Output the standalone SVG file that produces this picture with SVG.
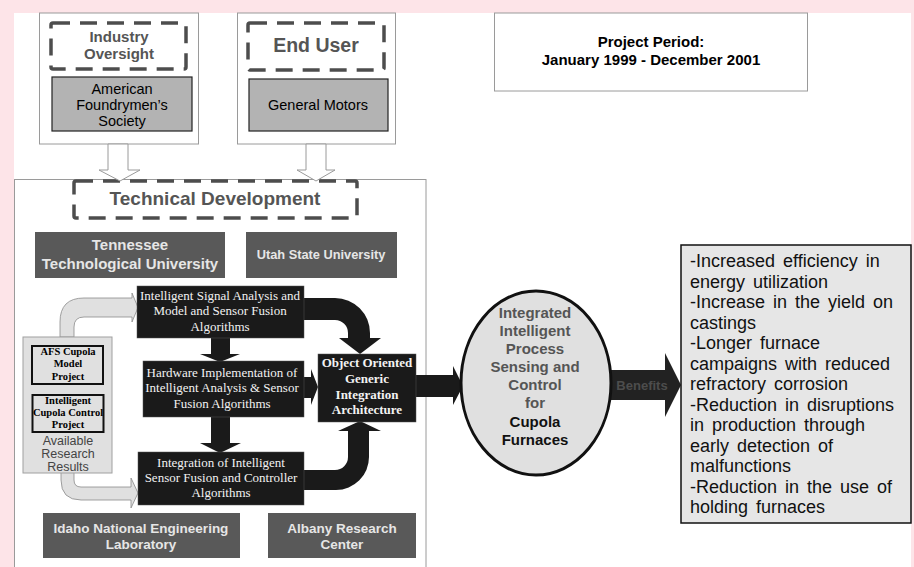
<svg xmlns="http://www.w3.org/2000/svg" width="914" height="567" viewBox="0 0 914 567">
<style>
.sans{font-family:"Liberation Sans",Arial,sans-serif}
.serif{font-family:"Liberation Serif","Times New Roman",serif}
.frame{fill:#fff;stroke:#9a9a9a;stroke-width:1}
.dash{fill:none;stroke:#4d4d4d;stroke-width:3.5;stroke-dasharray:17 10}
.dlabel{font-family:"Liberation Sans",Arial,sans-serif;font-weight:bold;fill:#555;text-anchor:middle}
.org{fill:#b3b3b3;stroke:#222;stroke-width:1.2}
.inst{fill:#595959}
.instt{font-family:"Liberation Sans",Arial,sans-serif;font-weight:bold;fill:#e6e6e6;text-anchor:middle}
.blk{fill:#1a1a1a;stroke:#555;stroke-width:0.5}
.blkt{font-family:"Liberation Serif","Times New Roman",serif;fill:#f2f2f2;text-anchor:middle;font-size:13px}
.bigarrow{fill:#1a1a1a}
.lightarrow{fill:#e0e0e0;stroke:#8a8a8a;stroke-width:0.8}
.hollow{fill:#fff;stroke:#9a9a9a;stroke-width:1}
</style>
<rect width="914" height="567" fill="#fde4e8"/>
<rect x="14" y="13" width="897" height="560" fill="#fff"/>

<g id="industry-oversight">
<rect class="frame" x="39.5" y="13" width="159" height="131"/>
<rect class="dash" x="51" y="23" width="135" height="46" rx="2"/>
<text class="dlabel" x="119" y="42" font-size="15">Industry</text>
<text class="dlabel" x="119" y="59" font-size="15">Oversight</text>
<rect class="org" x="52" y="77" width="140" height="54"/>
<text class="sans" x="122" y="94" font-size="14.5" text-anchor="middle">American</text>
<text class="sans" x="122" y="110" font-size="14.5" text-anchor="middle">Foundrymen’s</text>
<text class="sans" x="122" y="126" font-size="14.5" text-anchor="middle">Society</text>
</g>

<g id="end-user">
<rect class="frame" x="237.5" y="13" width="158" height="131"/>
<rect class="dash" x="248" y="23" width="136" height="47" rx="2"/>
<text class="dlabel" x="316" y="52" font-size="19.5">End User</text>
<rect class="org" x="249" y="79" width="139" height="52"/>
<text class="sans" x="318" y="110" font-size="14.5" text-anchor="middle">General Motors</text>
</g>

<g id="project-period">
<rect class="frame" x="494.5" y="13" width="313" height="78"/>
<text class="sans" x="651" y="47" font-size="15" font-weight="bold" text-anchor="middle">Project Period:</text>
<text class="sans" x="651" y="65" font-size="15" font-weight="bold" text-anchor="middle">January 1999 - December 2001</text>
</g>

<g id="technical-development">
<rect class="frame" x="14.5" y="179.5" width="411.5" height="400"/>
<rect class="dash" x="74" y="181" width="283" height="37" rx="2"/>
<text class="dlabel" x="215" y="205" font-size="19">Technical Development</text>
</g>

<g id="connectors">
<polygon class="hollow" points="108,144 128,144 128,170 140,170 120,181 99,170 108,170"/>
<polygon class="hollow" points="306,144 326,144 326,170 335,170 316,181 297,170 306,170"/>
<path class="lightarrow" d="M60,337 L60,322 Q60,298 84,298 L132,298 L132,293 L138,307.5 L132,322 L132,317 L84,317 Q74,317 74,327 L74,337 Z"/>
<path class="lightarrow" d="M61,472 L61,480 Q61,500 81,500 L131,500 L131,508 L138,493 L131,478 L131,487 L81,487 Q74,487 74,480 L74,472 Z"/>
<polygon class="bigarrow" points="211,337 230,337 230,354 240,354 220,362 200,354 211,354"/>
<polygon class="bigarrow" points="211,416 230,416 230,443 241,443 220,453 200,443 211,443"/>
<path class="bigarrow" d="M303,298 L335,298 A35,35 0 0 1 370,333 L370,338 L381,338 L360,354 L339,338 L348,338 L348,333 A13,13 0 0 0 335,320 L303,320 Z"/>
<path class="bigarrow" d="M303,470 L335,470 A13,13 0 0 0 348,457 L348,431 L338,431 L360,421 L381,431 L369,431 L369,457 A33,33 0 0 1 336,490 L303,490 Z"/>
<polygon class="bigarrow" points="303,377 311,377 311,369 318,387 311,405 311,398 303,398"/>
<polygon class="bigarrow" points="415,375 453,375 453,366 463,386 453,405 453,397 415,397"/>
<polygon fill="#222" points="608,370 665,370 665,353 681,385 665,417 665,400 608,400"/>
<text class="sans" x="642" y="390" font-size="13" font-weight="bold" fill="#4d4d4d" text-anchor="middle">Benefits</text>
</g>

<g id="tennessee-tech">
<rect class="inst" x="35" y="232" width="190" height="46"/>
<text class="instt" x="130" y="250" font-size="15">Tennessee</text>
<text class="instt" x="130" y="269" font-size="15">Technological University</text>
</g>

<g id="utah-state">
<rect class="inst" x="246" y="232" width="151" height="46"/>
<text class="instt" x="321" y="259" font-size="12.8">Utah State University</text>
</g>

<g id="available-results">
<rect x="23" y="337" width="89" height="136" fill="#e0e0e0" stroke="#a0a0a0" stroke-width="1"/>
<rect x="32" y="346" width="71" height="38" fill="#e0e0e0" stroke="#111" stroke-width="2"/>
<text class="serif" x="68" y="355" font-size="10.5" font-weight="bold" text-anchor="middle">AFS Cupola</text>
<text class="serif" x="68" y="367" font-size="10.5" font-weight="bold" text-anchor="middle">Model</text>
<text class="serif" x="68" y="380" font-size="10.5" font-weight="bold" text-anchor="middle">Project</text>
<rect x="32.5" y="395" width="71" height="37" fill="#e0e0e0" stroke="#111" stroke-width="2"/>
<text class="serif" x="68" y="404" font-size="10.5" font-weight="bold" text-anchor="middle">Intelligent</text>
<text class="serif" x="68" y="416" font-size="10.5" font-weight="bold" text-anchor="middle">Cupola Control</text>
<text class="serif" x="68" y="428" font-size="10.5" font-weight="bold" text-anchor="middle">Project</text>
<text class="sans" x="68" y="445" font-size="12.5" fill="#444" text-anchor="middle">Available</text>
<text class="sans" x="68" y="458" font-size="12.5" fill="#444" text-anchor="middle">Research</text>
<text class="sans" x="68" y="471" font-size="12.5" fill="#444" text-anchor="middle">Results</text>
</g>

<g id="signal-analysis">
<rect class="blk" x="137" y="286" width="167" height="52"/>
<text class="blkt" x="220" y="300">Intelligent Signal Analysis and</text>
<text class="blkt" x="220" y="315">Model and Sensor Fusion</text>
<text class="blkt" x="220" y="331">Algorithms</text>
</g>

<g id="hardware-implementation">
<rect class="blk" x="143" y="361" width="161" height="56"/>
<text class="blkt" x="222" y="377">Hardware Implementation of</text>
<text class="blkt" x="222" y="392">Intelligent Analysis &amp; Sensor</text>
<text class="blkt" x="222" y="408">Fusion Algorithms</text>
</g>

<g id="integration">
<rect class="blk" x="138" y="452" width="166" height="53"/>
<text class="blkt" x="221" y="467">Integration of Intelligent</text>
<text class="blkt" x="221" y="482">Sensor Fusion and Controller</text>
<text class="blkt" x="221" y="497">Algorithms</text>
</g>

<g id="architecture">
<rect class="blk" x="318" y="354" width="98" height="68"/>
<text class="blkt" x="367" y="367" font-size="13.5" font-weight="bold">Object Oriented</text>
<text class="blkt" x="367" y="383" font-size="13.5" font-weight="bold">Generic</text>
<text class="blkt" x="367" y="399" font-size="13.5" font-weight="bold">Integration</text>
<text class="blkt" x="367" y="414" font-size="13.5" font-weight="bold">Architecture</text>
</g>

<g id="idaho">
<rect class="inst" x="43" y="513" width="197" height="45"/>
<text class="instt" x="141" y="533" font-size="13.5">Idaho National Engineering</text>
<text class="instt" x="141" y="549" font-size="13.5">Laboratory</text>
</g>

<g id="albany">
<rect class="inst" x="268" y="513" width="148" height="45"/>
<text class="instt" x="342" y="533" font-size="13.5">Albany Research</text>
<text class="instt" x="342" y="549" font-size="13.5">Center</text>
</g>

<g id="integrated-sensing">
<ellipse cx="536" cy="383" rx="75" ry="92" fill="#e0e0e0" stroke="#111" stroke-width="3"/>
<g class="sans" font-size="15" font-weight="bold" text-anchor="middle" fill="#555">
<text x="535" y="318">Integrated</text>
<text x="535" y="336">Intelligent</text>
<text x="535" y="354">Process</text>
<text x="535" y="372">Sensing and</text>
<text x="535" y="390">Control</text>
<text x="535" y="408">for</text>
<text x="535" y="427" fill="#111">Cupola</text>
<text x="535" y="445" fill="#111">Furnaces</text>
</g>
</g>

<g id="benefits">
<rect x="681" y="245" width="230" height="278" fill="#e6e6e6" stroke="#111" stroke-width="1.5"/>
<g class="sans" font-size="18" fill="#111" word-spacing="3">
<text x="690" y="267">-Increased efficiency in</text>
<text x="690" y="287.5">energy utilization</text>
<text x="690" y="308">-Increase in the yield on</text>
<text x="690" y="328.5">castings</text>
<text x="690" y="349">-Longer furnace</text>
<text x="690" y="369.5">campaigns with reduced</text>
<text x="690" y="390">refractory corrosion</text>
<text x="690" y="410.5">-Reduction in disruptions</text>
<text x="690" y="431">in production through</text>
<text x="690" y="451.5">early detection of</text>
<text x="690" y="472">malfunctions</text>
<text x="690" y="492.5">-Reduction in the use of</text>
<text x="690" y="513">holding furnaces</text>
</g>
</g>
</svg>
